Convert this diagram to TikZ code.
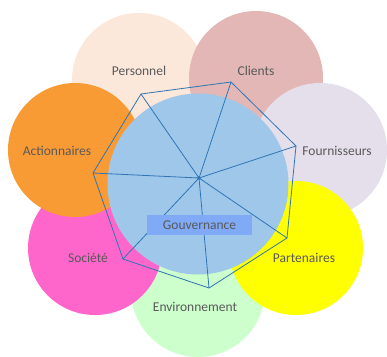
\documentclass[tikz,border=0pt]{standalone}
\usepackage{fontspec}
\setmainfont{Carlito}
\definecolor{cPers}{HTML}{FCE8DA}
\definecolor{cCli}{HTML}{E2B7B5}
\definecolor{cFour}{HTML}{E5DFEC}
\definecolor{cAct}{HTML}{F99B34}
\definecolor{cSoc}{HTML}{FF66CC}
\definecolor{cEnv}{HTML}{CCFFCC}
\definecolor{cPart}{HTML}{FFFF00}
\definecolor{cGov}{HTML}{9FC7EA}
\definecolor{cBox}{HTML}{80A9F6}
\definecolor{cLine}{HTML}{2E75B6}
\definecolor{cText}{HTML}{595959}
\begin{document}
\begin{tikzpicture}[x=1pt,y=-1pt,
  petal/.style={circle,minimum size=134pt,inner sep=0pt,draw=none},
  lbl/.style={font=\fontsize{13.5}{15}\selectfont,text=cText},
  spoke/.style={draw=cLine,line width=0.8pt}]
\useasboundingbox (0,0) rectangle (387,356);
\node[petal,fill=cPers] (pers) at (139,80) {};
\node[petal,fill=cCli] (cli) at (256,78) {};
\node[petal,fill=cFour] (four) at (320,150) {};
\node[petal,fill=cEnv] (env) at (198,290) {};
\node[petal,fill=cPart] (part) at (296,248) {};
\node[petal,fill=cSoc] (soc) at (95,248) {};
\node[petal,fill=cAct] (act) at (75,150) {};
\node[lbl] at (139,71) {Personnel};
\node[lbl] at (256,71) {Clients};
\node[lbl] at (337,151) {Fournisseurs};
\node[lbl] at (57,151) {Actionnaires};
\node[lbl] at (88,258) {Société};
\node[lbl] at (304,258) {Partenaires};
\node[lbl] at (195,307) {Environnement};
\node[circle,fill=cGov,minimum size=181pt,inner sep=0pt] (gov) at (198,184) {};
\coordinate (c) at (199,178);
\coordinate (p1) at (141,94);
\coordinate (p2) at (231,82);
\coordinate (p3) at (296,146);
\coordinate (p4) at (287,238);
\coordinate (p5) at (209,288);
\coordinate (p6) at (123,259);
\coordinate (p7) at (93,173);
\draw[spoke,line join=round] (p1) -- (p2) -- (p3) -- (p4) -- (p5) -- (p6) -- (p7) -- cycle;
\foreach \p in {p1,p2,p3,p4,p5,p6,p7} \draw[spoke] (c) -- (\p);
\fill[cLine] (c) circle (1.8pt);
\node[lbl,fill=cBox,minimum width=105pt,minimum height=20pt,inner sep=0pt] (box) at (199.5,225) {Gouvernance};
\end{tikzpicture}
\end{document}
